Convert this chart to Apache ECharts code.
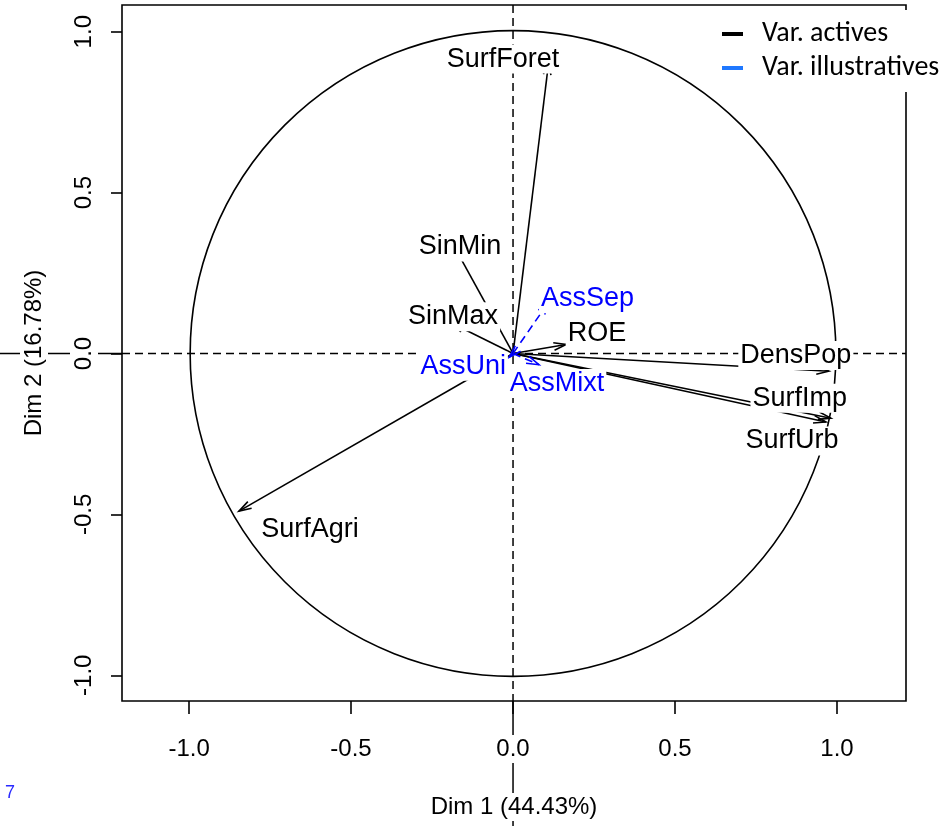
<!DOCTYPE html>
<html>
<head>
<meta charset="utf-8">
<script src="https://cdn.jsdelivr.net/npm/echarts@6/dist/echarts.min.js"></script>
<style>
html,body{margin:0;padding:0;background:#fff;}
#chart{width:951px;height:826px;}
</style>
</head>
<body>
<div id="chart"></div>
<script>
// ---- data ----
const activeNames = ['SurfForet', 'SinMin', 'SinMax', 'ROE', 'DensPop', 'SurfImp', 'SurfUrb', 'SurfAgri'];
const activeDim1  = [0.110, -0.180, -0.190, 0.164, 0.975, 0.981, 0.966, -0.846];
const activeDim2  = [0.905, 0.330, 0.095, 0.028, -0.055, -0.201, -0.213, -0.490];

const suppNames = ['AssSep', 'AssUni', 'AssMixt'];
const suppDim1  = [0.110, -0.012, 0.080];
const suppDim2  = [0.160, -0.012, -0.035];

const xTickValues = [-1, -0.5, 0, 0.5, 1];
const yTickValues = [-1, -0.5, 0, 0.5, 1];

const xTitle = 'Dim 1 (44.43%)';
const yTitle = 'Dim 2 (16.78%)';
const legendNames = ['Var. actives', 'Var. illustratives'];

// ---- layout: where each label sits (repelled away from arrow tips) ----
const labelPlacement = {
  SurfForet: [-0.031, 0.915], SinMin: [-0.164, 0.331], SinMax: [-0.185, 0.114],
  ROE: [0.259, 0.062], DensPop: [0.873, -0.006], SurfImp: [0.885, -0.139],
  SurfUrb: [0.861, -0.272], SurfAgri: [-0.627, -0.547],
  AssSep: [0.230, 0.170], AssUni: [-0.154, -0.040], AssMixt: [0.136, -0.093]
};

const BLACK = '#000000';
const BLUE = '#0000ff';
const LEGEND_BLUE = '#1f78ff';
const FONT = "'Liberation Sans', Arial, sans-serif";

const activeData = activeNames.map((n, i) => ({ name: n, value: [activeDim1[i], activeDim2[i]] }));
const suppData = suppNames.map((n, i) => ({ name: n, value: [suppDim1[i], suppDim2[i]] }));

function arrowRender(color, dashed) {
  return function (params, api) {
    const p0 = api.coord([0, 0]);
    const p1 = api.coord([api.value(0), api.value(1)]);
    const dx = p1[0] - p0[0], dy = p1[1] - p0[1];
    const L = Math.sqrt(dx * dx + dy * dy) || 1;
    const ux = dx / L, uy = dy / L;
    const hl = 13, ang = 17 * Math.PI / 180;
    const c = Math.cos(ang), s = Math.sin(ang);
    const w1 = [p1[0] - hl * (ux * c - uy * s), p1[1] - hl * (uy * c + ux * s)];
    const w2 = [p1[0] - hl * (ux * c + uy * s), p1[1] - hl * (uy * c - ux * s)];
    const st = { stroke: color, lineWidth: 1.6, fill: null };
    const lineStyle = Object.assign({}, st, dashed ? { lineDash: [8, 5] } : {});
    return {
      type: 'group',
      children: [
        { type: 'line', shape: { x1: p0[0], y1: p0[1], x2: p1[0], y2: p1[1] }, style: lineStyle },
        { type: 'polyline', shape: { points: [w1, p1, w2] }, style: st }
      ]
    };
  };
}

const labelData = activeNames.map(n => ({ name: n, value: labelPlacement[n], label: { color: BLACK } }))
  .concat(suppNames.map(n => ({ name: n, value: labelPlacement[n], label: { color: BLUE } })));

const chart = echarts.init(document.getElementById('chart'), null, { renderer: 'canvas' });

chart.setOption({
  animation: false,
  backgroundColor: '#ffffff',
  grid: { left: 122, right: 45, top: 5, bottom: 121, show: true, borderColor: BLACK, borderWidth: 1.6, backgroundColor: 'transparent' },
  xAxis: {
    type: 'value', min: -1.207, max: 1.213, z: 10,
    axisLine: { show: false, onZero: false },
    splitLine: { show: false },
    axisTick: { show: true, inside: false, length: 13, customValues: xTickValues, lineStyle: { color: BLACK, width: 1.6 } },
    axisLabel: {
      customValues: xTickValues, formatter: v => Number(v).toFixed(1),
      fontSize: 24, fontFamily: FONT, color: BLACK, margin: 34,
      backgroundColor: '#fff', padding: [2, 4]
    },
    name: xTitle, nameLocation: 'middle', nameGap: 92,
    nameTextStyle: { fontSize: 24, fontFamily: FONT, color: BLACK, backgroundColor: '#fff', padding: [2, 5] }
  },
  yAxis: {
    type: 'value', min: -1.08, max: 1.083, z: 10,
    axisLine: { show: false, onZero: false },
    splitLine: { show: false },
    axisTick: { show: true, inside: false, length: 11, customValues: yTickValues, lineStyle: { color: BLACK, width: 1.6 } },
    axisLabel: {
      customValues: yTickValues, formatter: v => Number(v).toFixed(1), rotate: 90,
      fontSize: 24, fontFamily: FONT, color: BLACK, margin: 24,
      backgroundColor: '#fff', padding: [2, 4]
    },
    name: yTitle, nameLocation: 'middle', nameGap: 74,
    nameTextStyle: { fontSize: 24, fontFamily: FONT, color: BLACK, backgroundColor: '#fff', padding: [2, 5] }
  },
  legend: {
    orient: 'vertical', left: 712, top: 10,
    padding: [10, 10, 10, 10], backgroundColor: '#fff',
    itemWidth: 21, itemHeight: 4, itemGap: 6, icon: 'rect',
    textStyle: { fontSize: 28, fontFamily: "Carlito, Lato, sans-serif", color: BLACK, padding: [0, 0, 0, 14] },
    data: legendNames
  },
  graphic: [
    { type: 'text', left: 5, top: 784, style: { text: '7', fill: '#2a2aff', font: "18px " + FONT } }
  ],
  series: [
    {
      // reference axes through the origin: dashed inside the frame, solid outside it
      type: 'custom', name: 'axesRef', silent: true, z: 1, clip: false,
      data: [[0, 0]],
      renderItem: function (params, api) {
        const o = api.coord([0, 0]);
        const cs = params.coordSys;
        const dash = { stroke: BLACK, lineWidth: 1.5, lineDash: [8, 5] };
        const solid = { stroke: BLACK, lineWidth: 1.5 };
        return {
          type: 'group', children: [
            { type: 'line', shape: { x1: cs.x, y1: o[1], x2: cs.x + cs.width, y2: o[1] }, style: dash },
            { type: 'line', shape: { x1: o[0], y1: cs.y, x2: o[0], y2: cs.y + cs.height }, style: dash },
            { type: 'line', shape: { x1: 0, y1: o[1], x2: cs.x, y2: o[1] }, style: solid },
            { type: 'line', shape: { x1: o[0], y1: cs.y + cs.height, x2: o[0], y2: api.getHeight() }, style: solid }
          ]
        };
      }
    },
    {
      // unit correlation circle
      type: 'custom', name: 'circle', silent: true, z: 2,
      data: [[0, 0]],
      renderItem: function (params, api) {
        const o = api.coord([0, 0]);
        const sz = api.size([1, 1]);
        return { type: 'circle', shape: { cx: o[0], cy: o[1], r: (sz[0] + sz[1]) / 2 }, style: { stroke: BLACK, lineWidth: 1.6, fill: null } };
      }
    },
    {
      type: 'custom', name: legendNames[0], z: 3,
      itemStyle: { color: BLACK },
      data: activeData,
      renderItem: arrowRender(BLACK, false)
    },
    {
      type: 'custom', name: legendNames[1], z: 3,
      itemStyle: { color: LEGEND_BLUE },
      data: suppData,
      renderItem: arrowRender(BLUE, true)
    },
    {
      type: 'scatter', name: 'labels', z: 6, silent: true,
      symbolSize: 1, itemStyle: { color: 'rgba(0,0,0,0)', opacity: 1 },
      data: labelData,
      label: {
        show: true, position: 'inside', formatter: p => p.name,
        fontSize: 27, fontFamily: FONT, lineHeight: 29,
        backgroundColor: '#fff', padding: [0, 2]
      }
    }
  ]
});
</script>
</body>
</html>
